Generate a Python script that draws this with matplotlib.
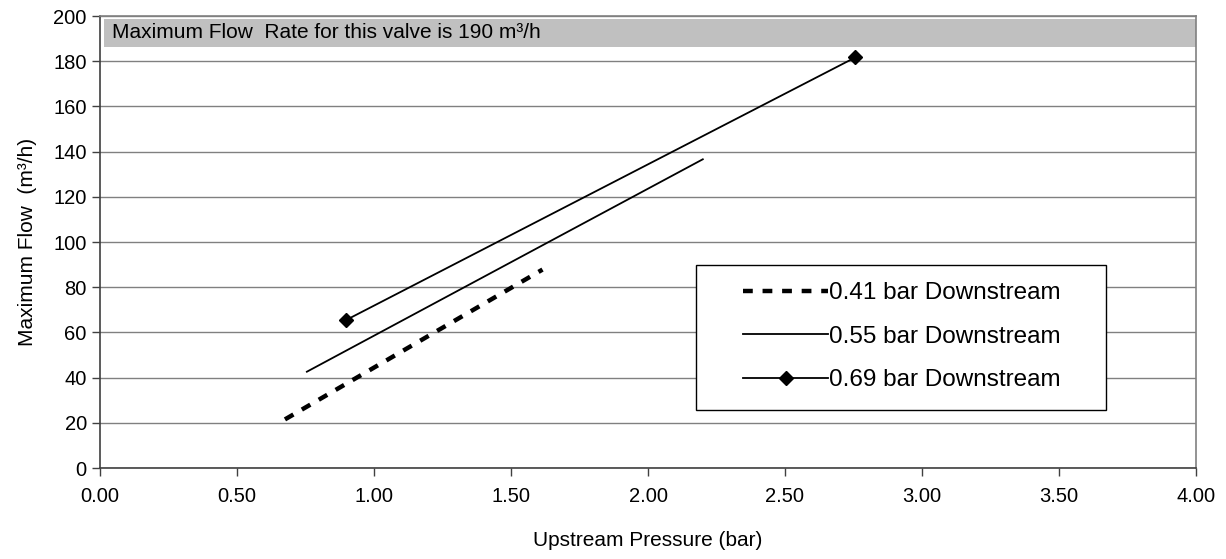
import matplotlib
matplotlib.use("Agg")
import matplotlib.pyplot as plt
from matplotlib.patches import Rectangle

plt.rcParams['font.family'] = ['Liberation Sans', 'DejaVu Sans']

# Data
x_041 = [0.675, 1.615]
y_041 = [21.5, 87.8]
x_055 = [0.755, 2.20]
y_055 = [42.6, 136.6]
x_069 = [0.897, 2.757]
y_069 = [65.4, 181.7]
labels = ["0.41 bar Downstream", "0.55 bar Downstream", "0.69 bar Downstream"]
x_ticks = [0.0, 0.5, 1.0, 1.5, 2.0, 2.5, 3.0, 3.5, 4.0]
y_ticks = [0, 20, 40, 60, 80, 100, 120, 140, 160, 180, 200]
banner_text = "Maximum Flow  Rate for this valve is 190 m\u00b3/h"

fig = plt.figure(figsize=(12.26, 5.59), dpi=100)
ax = fig.add_axes([100/1226, 1-468/559, 1096/1226, 452/559])

grey = '#808080'
ax.set_xlim(0, 4)
ax.set_ylim(0, 200)
ax.set_xticks(x_ticks)
ax.set_xticklabels([f"{v:.2f}" for v in x_ticks])
ax.set_yticks(y_ticks)
for s in ax.spines.values():
    s.set_color(grey)
    s.set_linewidth(1.2)
ax.spines['bottom'].set_color('#404040')
ax.spines['left'].set_color('#404040')
ax.tick_params(axis='both', direction='out', length=5.5, width=1, color='#404040',
               labelsize=14.5)
ax.tick_params(axis='y', pad=4)
ax.tick_params(axis='x', pad=8)
ax.grid(axis='y', color=grey, linewidth=1)
ax.set_axisbelow(True)

# banner
ax.axhspan(186.4, 198.7, xmin=4/1096, xmax=1, color='#c0c0c0', zorder=1, lw=0)
ax.text(0.044, 192.6, banner_text, fontsize=15, va='center', ha='left', zorder=2)

l1, = ax.plot(x_041, y_041, color='black', lw=3.2, linestyle=(0, (2.2, 2.2)),
              dash_capstyle='butt', zorder=3)
l2, = ax.plot(x_055, y_055, color='black', lw=1.3, zorder=3)
l3, = ax.plot(x_069, y_069, color='black', lw=1.3, marker='D', markersize=7, zorder=3)

ax.set_xlabel("Upstream Pressure (bar)", fontsize=15, labelpad=18)
ax.set_ylabel("Maximum Flow  (m\u00b3/h)", fontsize=15, labelpad=12)

# legend box
ax.add_patch(Rectangle((0.544, 0.128), 0.918-0.544, 0.449-0.128, transform=ax.transAxes,
                       facecolor='white', edgecolor='black', lw=1, zorder=4))
leg = ax.legend([l1, l2, l3], labels, loc='upper left', bbox_to_anchor=(0.5867, 0.411),
                frameon=False, fontsize=17.5, handlelength=3.5, handletextpad=0.05,
                labelspacing=0.88, borderpad=0, borderaxespad=0)
leg.set_zorder(5)

fig.savefig("out.png", dpi=100)
